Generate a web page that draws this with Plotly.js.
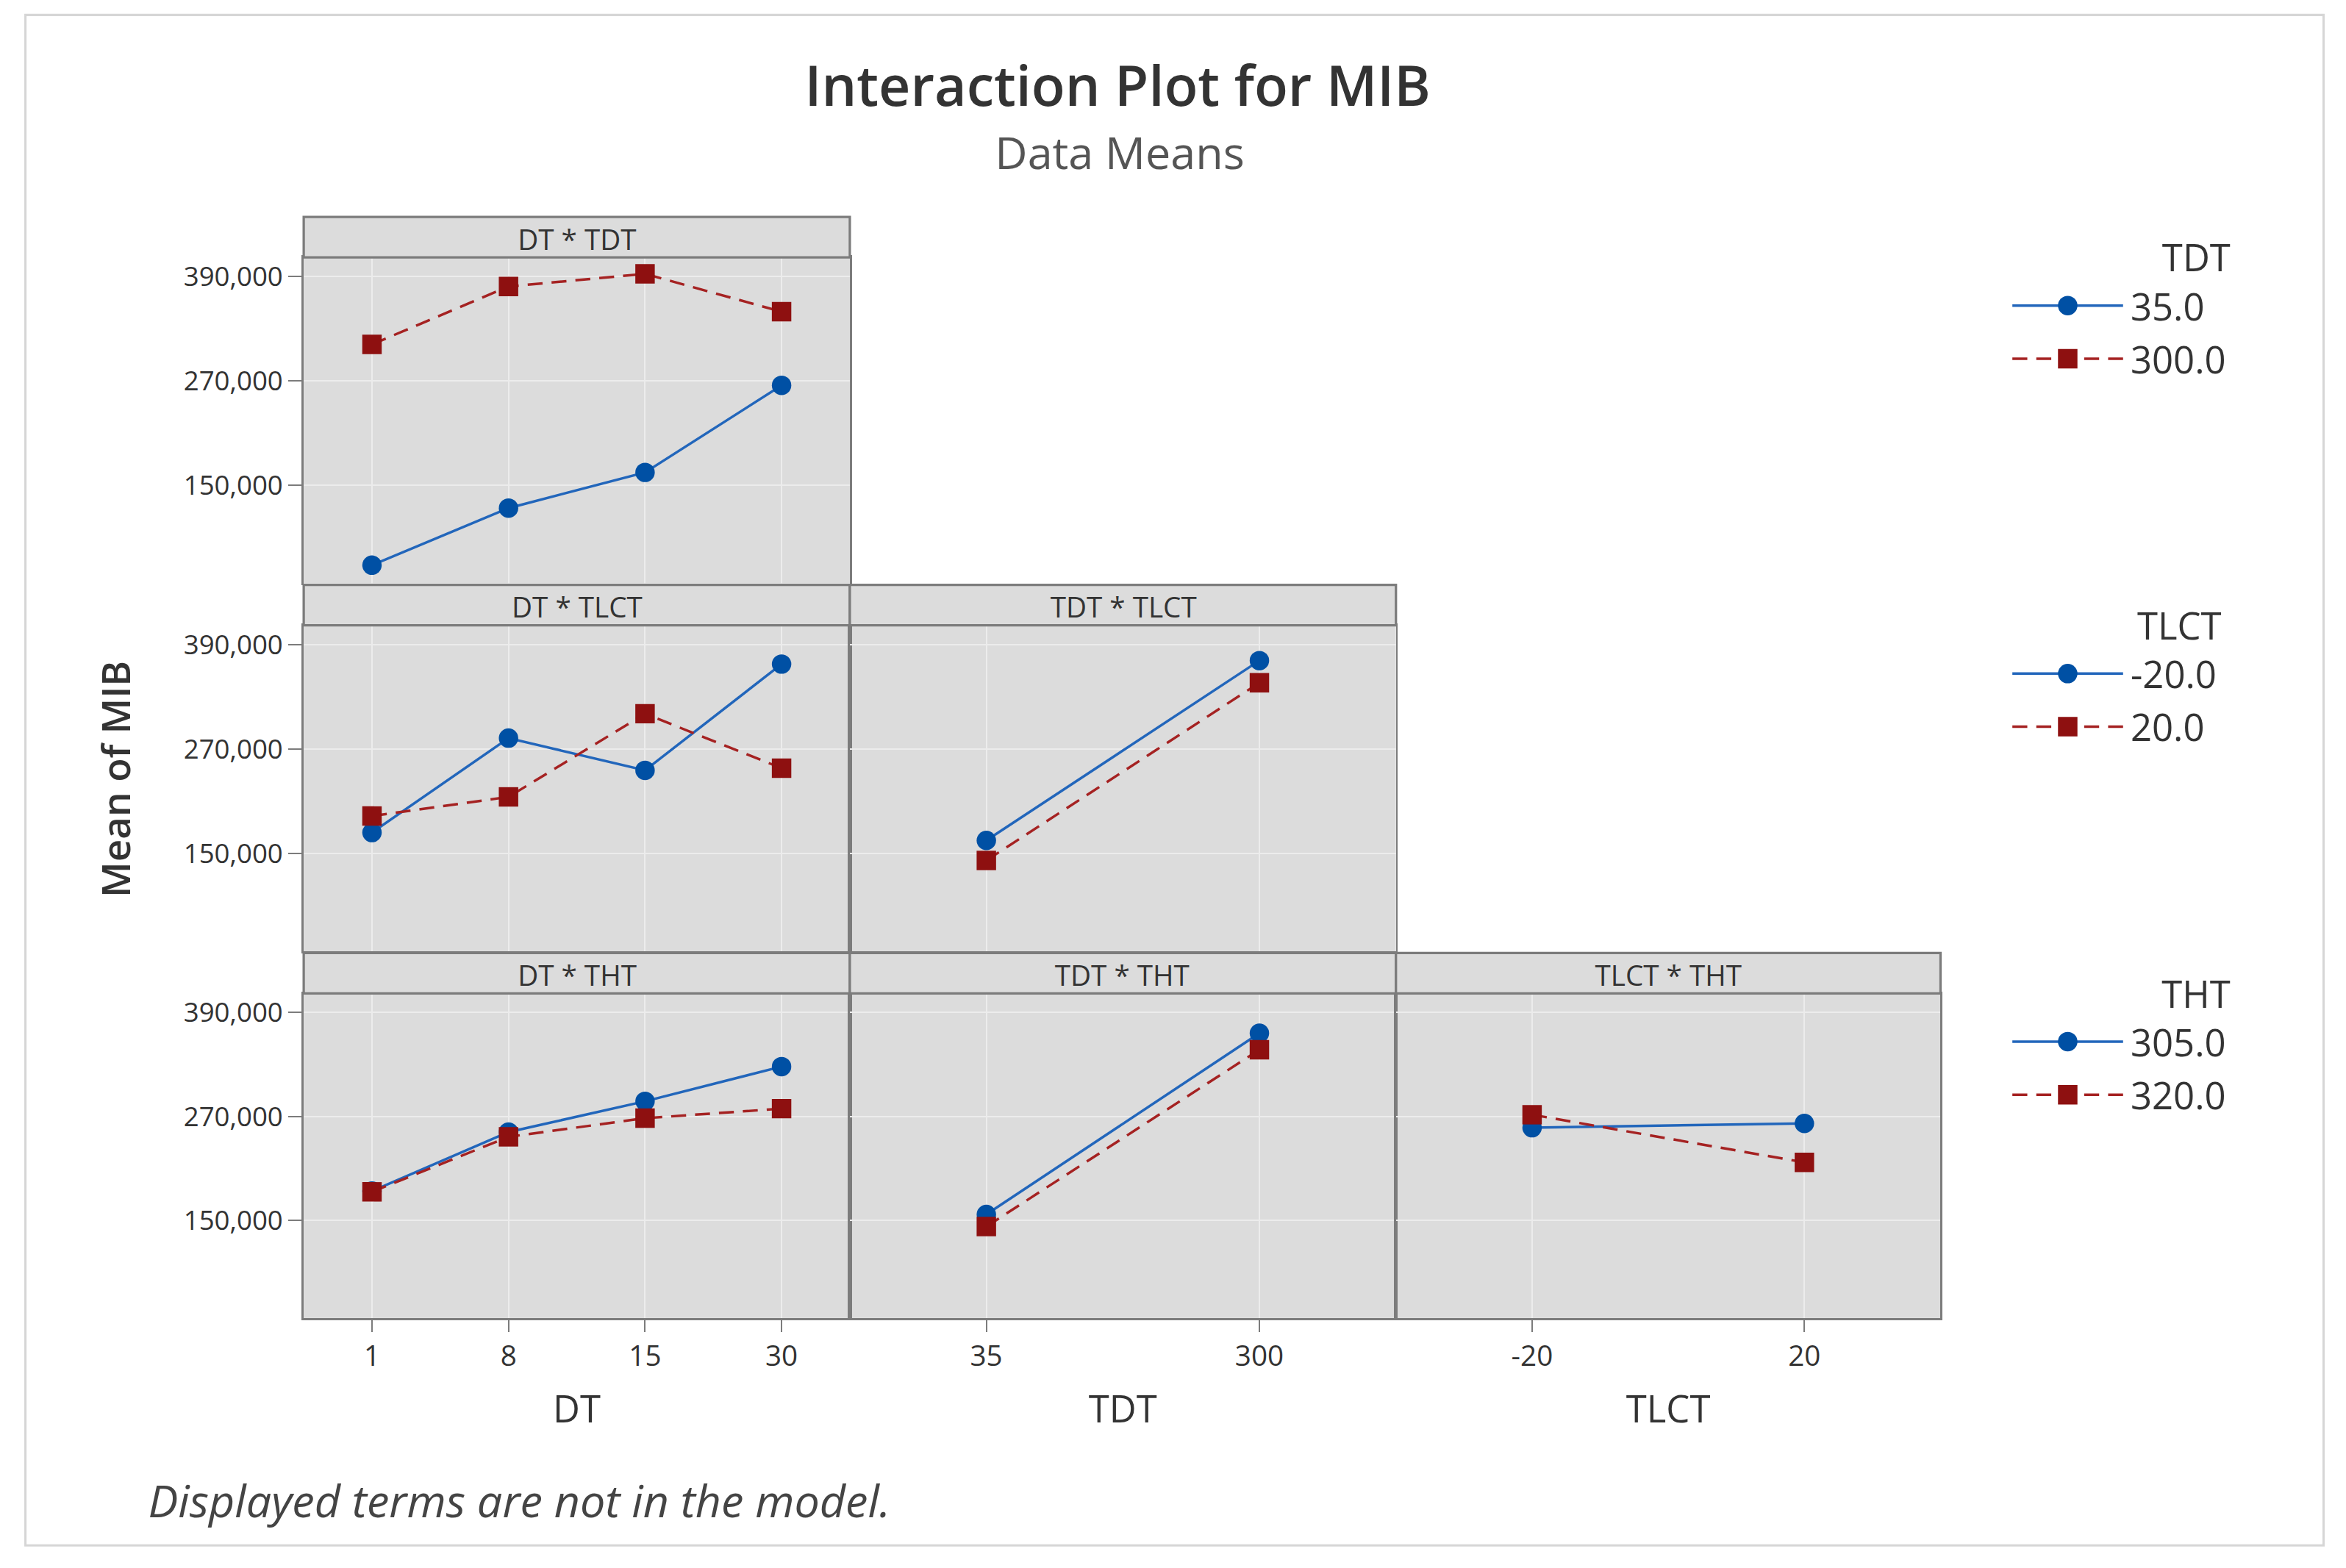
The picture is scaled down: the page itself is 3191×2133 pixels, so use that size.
<!DOCTYPE html>
<html>
<head>
<meta charset="utf-8">
<script src="https://cdn.plot.ly/plotly-3.0.1.min.js"></script>
<style>
  html, body { margin: 0; padding: 0; background: #ffffff; }
  #wrap { position: relative; width: 3191px; height: 2133px; overflow: hidden; }
  #chart { position: absolute; left: 0; top: 0; width: 1568px; height: 1048px; transform: scale(2.03508); transform-origin: 0 0; }
</style>
</head>
<body>
<div id="wrap"><div id="chart"></div></div>
<script>
// ---------------- data ----------------
const DT_LEVELS   = ['1', '8', '15', '30'];
const TDT_LEVELS  = ['35', '300'];
const TLCT_LEVELS = ['-20', '20'];
const Y_TICKS     = [150000, 270000, 390000];

// DT * TDT  (lines = TDT level)
const dtTdt_35  = [58500, 124000, 165000, 265000];
const dtTdt_300 = [312000, 378500, 393000, 349500];
// DT * TLCT (lines = TLCT level)
const dtTlct_m20 = [174000, 282500, 245500, 367500];
const dtTlct_20  = [193000, 215000, 310500, 248000];
// TDT * TLCT
const tdtTlct_m20 = [165000, 371500];
const tdtTlct_20  = [142000, 346000];
// DT * THT (lines = THT level)
const dtTht_305 = [184000, 252000, 287500, 327500];
const dtTht_320 = [183000, 246500, 268000, 279000];
// TDT * THT
const tdtTht_305 = [157000, 366000];
const tdtTht_320 = [143000, 347000];
// TLCT * THT
const tlctTht_305 = [257000, 262000];
const tlctTht_320 = [272000, 217000];

// ---------------- layout geometry ----------------
const W = 1568, H = 1048;
const px = v => v / W;
const py = v => 1 - v / H;
const colDomains = [[px(203), px(568)], [px(568), px(933)], [px(933), px(1297)]];
const rowDomains = [[py(390), py(172)], [py(636), py(418)], [py(881), py(664)]];
const STRIP_H = 27 / H;
const Y_RANGE = [37500, 412000];

const FONT = '"Open Sans", "Noto Sans", "DejaVu Sans", sans-serif';
const BLUE_LINE = '#2266bb', BLUE_MARK = '#0050a4';
const RED_LINE = '#a52222', RED_MARK = '#8e1010';
const BORDER = '#7c7c7c';

const panels = [
  {id: 1, row: 0, col: 0, label: 'DT * TDT',   cats: DT_LEVELS,   a: dtTdt_35,    b: dtTdt_300,   na: '35.0',  nb: '300.0', legend: 'legend'},
  {id: 2, row: 1, col: 0, label: 'DT * TLCT',  cats: DT_LEVELS,   a: dtTlct_m20,  b: dtTlct_20,   na: '-20.0', nb: '20.0',  legend: 'legend2'},
  {id: 3, row: 1, col: 1, label: 'TDT * TLCT', cats: TDT_LEVELS,  a: tdtTlct_m20, b: tdtTlct_20,  na: '-20.0', nb: '20.0',  legend: null},
  {id: 4, row: 2, col: 0, label: 'DT * THT',   cats: DT_LEVELS,   a: dtTht_305,   b: dtTht_320,   na: '305.0', nb: '320.0', legend: 'legend3'},
  {id: 5, row: 2, col: 1, label: 'TDT * THT',  cats: TDT_LEVELS,  a: tdtTht_305,  b: tdtTht_320,  na: '305.0', nb: '320.0', legend: null},
  {id: 6, row: 2, col: 2, label: 'TLCT * THT', cats: TLCT_LEVELS, a: tlctTht_305, b: tlctTht_320, na: '305.0', nb: '320.0', legend: null}
];
const xTitles = {4: 'DT', 5: 'TDT', 6: 'TLCT'};

const traces = [];
const layout = {
  width: W, height: H,
  margin: {l: 0, r: 0, t: 0, b: 0},
  paper_bgcolor: '#ffffff',
  plot_bgcolor: '#dcdcdc',
  font: {family: FONT, color: '#333333'},
  showlegend: true,
  title: {
    text: 'Interaction Plot for MIB',
    x: px(747), xanchor: 'center', xref: 'paper',
    y: py(58), yanchor: 'middle', yref: 'paper',
    font: {family: FONT, size: 37, color: '#333333', weight: 600}
  },
  shapes: [],
  annotations: []
};

panels.forEach(p => {
  const xa = 'x' + (p.id === 1 ? '' : p.id);
  const ya = 'y' + (p.id === 1 ? '' : p.id);
  const xKey = 'xaxis' + (p.id === 1 ? '' : p.id);
  const yKey = 'yaxis' + (p.id === 1 ? '' : p.id);
  const bottom = p.row === 2;
  const left = p.col === 0;

  layout[xKey] = {
    type: 'category', categoryorder: 'array', categoryarray: p.cats,
    range: [-0.5, p.cats.length - 0.5],
    domain: colDomains[p.col], anchor: ya,
    showgrid: true, gridcolor: '#ececec', gridwidth: 1,
    showline: true, mirror: true, linecolor: BORDER, linewidth: 1.3,
    zeroline: false, fixedrange: true,
    showticklabels: bottom, ticks: bottom ? 'outside' : '', ticklen: 8, tickwidth: 1, tickcolor: BORDER,
    tickfont: {family: FONT, size: 19, color: '#333333'},
    title: bottom ? {text: xTitles[p.id], standoff: 15, font: {family: FONT, size: 25, color: '#333333'}} : {text: ''}
  };
  layout[yKey] = {
    range: Y_RANGE, domain: rowDomains[p.row], anchor: xa,
    tickmode: 'array', tickvals: Y_TICKS, tickformat: ',d',
    showgrid: true, gridcolor: '#ececec', gridwidth: 1,
    showline: true, mirror: true, linecolor: BORDER, linewidth: 1.3,
    zeroline: false, fixedrange: true,
    showticklabels: left, ticks: left ? 'outside' : '', ticklen: 9, tickwidth: 1, tickcolor: BORDER,
    tickfont: {family: FONT, size: 18, color: '#333333'}
  };

  // strip
  const top = rowDomains[p.row][1];
  layout.shapes.push({
    type: 'rect', xref: 'paper', yref: 'paper',
    x0: colDomains[p.col][0], x1: colDomains[p.col][1], y0: top, y1: top + STRIP_H,
    fillcolor: '#dcdcdc', line: {color: BORDER, width: 1.6}, layer: 'above'
  });
  layout.annotations.push({
    text: p.label, xref: 'paper', yref: 'paper',
    x: (colDomains[p.col][0] + colDomains[p.col][1]) / 2, y: top + STRIP_H / 2 - 1 / H,
    xanchor: 'center', yanchor: 'middle', showarrow: false,
    font: {family: FONT, size: 19, color: '#333333'}
  });

  const show = p.legend !== null;
  traces.push({
    type: 'scatter', mode: 'lines+markers', x: p.cats, y: p.a, xaxis: xa, yaxis: ya,
    name: p.na, showlegend: show, legend: show ? p.legend : undefined,
    line: {color: BLUE_LINE, width: 1.7},
    marker: {symbol: 'circle', size: 13, color: BLUE_MARK},
    hoverinfo: 'skip'
  });
  traces.push({
    type: 'scatter', mode: 'lines+markers', x: p.cats, y: p.b, xaxis: xa, yaxis: ya,
    name: p.nb, showlegend: show, legend: show ? p.legend : undefined,
    line: {color: RED_LINE, width: 1.7, dash: '10px,6px'},
    marker: {symbol: 'square', size: 13, color: RED_MARK},
    hoverinfo: 'skip'
  });
});

// legends
function legendCfg(title, topPx) {
  return {
    title: {text: title, side: 'top right', font: {family: FONT, size: 25, color: '#333333'}},
    x: px(1340), xanchor: 'left', y: py(topPx), yanchor: 'top',
    bgcolor: 'rgba(0,0,0,0)', borderwidth: 0,
    font: {family: FONT, size: 25, color: '#333333'},
    itemwidth: 74, itemsizing: 'trace', tracegroupgap: 0
  };
}
layout.legend  = legendCfg('TDT', 149);
layout.legend2 = legendCfg('TLCT', 395);
layout.legend3 = legendCfg('THT', 641);

// texts
layout.annotations.push({
  text: 'Data Means', xref: 'paper', yref: 'paper', x: px(748), y: py(101),
  xanchor: 'center', yanchor: 'middle', showarrow: false,
  font: {family: FONT, size: 30, color: '#555555'}
});
layout.annotations.push({
  text: 'Mean of MIB', xref: 'paper', yref: 'paper', x: px(77), y: py(521),
  xanchor: 'center', yanchor: 'middle', showarrow: false, textangle: -90,
  font: {family: FONT, size: 26, color: '#333333', weight: 600}
});
layout.annotations.push({
  text: '<i>Displayed terms are not in the model.</i>', xref: 'paper', yref: 'paper', x: px(97), y: py(1002),
  xanchor: 'left', yanchor: 'middle', showarrow: false,
  font: {family: FONT, size: 30, color: '#444444'}
});
// outer frame
layout.shapes.push({
  type: 'rect', xref: 'paper', yref: 'paper', x0: px(17), x1: px(1553), y0: py(1033), y1: py(10),
  line: {color: '#d6d6d6', width: 1.5}, fillcolor: 'rgba(0,0,0,0)', layer: 'below'
});

Plotly.newPlot('chart', traces, layout, {staticPlot: true, displayModeBar: false});
</script>
</body>
</html>
